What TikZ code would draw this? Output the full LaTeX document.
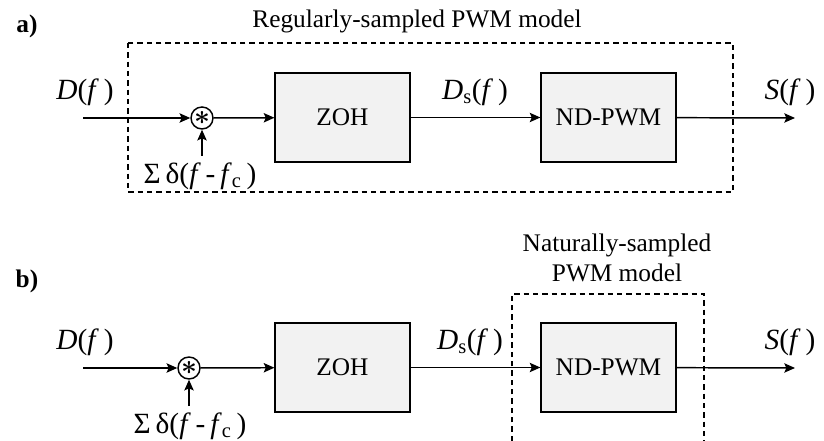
\documentclass[tikz,border=0pt]{standalone}
\usepackage{fontspec}
\setmainfont{Liberation Serif}
\usepackage{tikz}
\usetikzlibrary{arrows.meta,positioning}
\newcommand{\blkfont}{\fontsize{19}{22}\selectfont}
\newcommand{\sigfont}{\fontsize{22}{26}\selectfont}
\tikzset{
  blk/.style={draw, line width=1.1pt, fill=gray!10, minimum width=101pt,
              minimum height=67pt, font=\blkfont},
  mul/.style={draw, circle, line width=1.1pt, fill=white, inner sep=0pt,
              minimum size=16.5pt, font=\fontsize{20}{20}\selectfont\boldmath},
  sig/.style={-{Stealth[length=8pt,width=7pt,inset=1.5pt]}, line width=1.1pt},
  frame/.style={dashed, dash pattern=on 4pt off 3pt, line width=1.1pt},
  framelbl/.style={font=\blkfont, align=center},
  lbl/.style={font=\sigfont},
  panel/.style={font=\fontsize{19}{22}\selectfont\bfseries},
}
\begin{document}
\begin{tikzpicture}[x=0.75pt,y=-0.75pt]
    \useasboundingbox (0,0) rectangle (824,441);

    % a) regularly-sampled
    \node[panel] (pa) at (27,26) {a)};
    \draw[frame] (128,43) rectangle (733,192);
    \node[framelbl] (ttla) at (417,21) {Regularly-sampled PWM model};
    \coordinate (ina) at (83,118);
    \node[mul] (mula) at (202,118) {$\ast$};
    \node[blk] (zoha) at (342.5,117.5) {ZOH};
    \node[blk] (ndpa) at (608.5,117.5) {ND-PWM};
    \coordinate (outa) at (795,118);
    \coordinate (dlta) at (202,156);
    \node[lbl] (da) at (85,92) {\textit{D}(\textit{f}\,)};
    \node[lbl] (dsa) at (475,92) {\textit{D}\textsubscript{s}(\textit{f}\,)};
    \node[lbl] (sa) at (790,92) {\textit{S}(\textit{f}\,)};
    \node[lbl] (suma) at (200,176) {Σ\,δ(\textit{f}\,-\,\textit{f}\textsubscript{c}\,)};
    \draw[sig] (ina) -- (mula);
    \draw[sig] (mula) -- (zoha);
    \draw[sig] (zoha) -- (ndpa);
    \draw[sig] (ndpa) -- (outa);
    \draw[sig] (dlta) -- (mula);

    % b) naturally-sampled
    \node[panel] (pb) at (27,281) {b)};
    \draw[frame] (512,441) -- (512,294) -- (704,294) -- (704,441);
    \node[framelbl] (ttlb) at (617,258) {Naturally-sampled\\PWM model};
    \coordinate (inb) at (83,368);
    \node[mul] (mulb) at (189,368) {$\ast$};
    \node[blk] (zohb) at (342.5,367.5) {ZOH};
    \node[blk] (ndpb) at (608.5,367.5) {ND-PWM};
    \coordinate (outb) at (795,368);
    \coordinate (dltb) at (189,406);
    \node[lbl] (db) at (85,342) {\textit{D}(\textit{f}\,)};
    \node[lbl] (dsb) at (470,342) {\textit{D}\textsubscript{s}(\textit{f}\,)};
    \node[lbl] (sb) at (790,342) {\textit{S}(\textit{f}\,)};
    \node[lbl] (sumb) at (190,426) {Σ\,δ(\textit{f}\,-\,\textit{f}\textsubscript{c}\,)};
    \draw[sig] (inb) -- (mulb);
    \draw[sig] (mulb) -- (zohb);
    \draw[sig] (zohb) -- (ndpb);
    \draw[sig] (ndpb) -- (outb);
    \draw[sig] (dltb) -- (mulb);
  \end{tikzpicture}
\end{document}
